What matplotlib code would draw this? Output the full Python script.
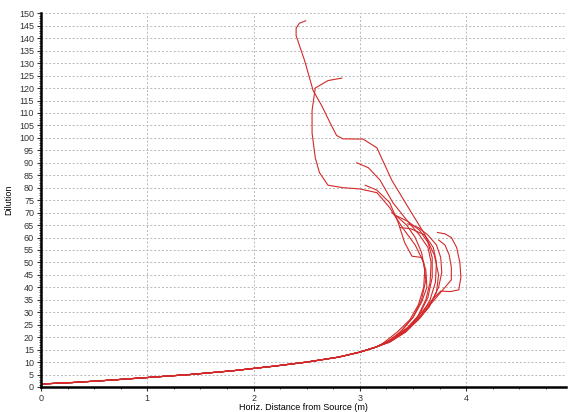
import matplotlib
matplotlib.use("Agg")
import matplotlib.pyplot as plt
from matplotlib.ticker import MultipleLocator

plt.rcParams['font.family'] = ['Liberation Sans', 'DejaVu Sans']

# shared lower trunk of all plume trajectories (distance m, dilution)
trunk_x = [0.0, 0.3, 0.6, 1.0, 1.4, 1.8, 2.2, 2.5, 2.8, 3.0, 3.15]
trunk_y = [1.2, 1.8, 2.6, 3.8, 5.0, 6.5, 8.4, 10.0, 12.0, 14.0, 16.0]

# upper parts of each trajectory
c1_x = [3.3, 3.42, 3.55, 3.65, 3.72, 3.74, 3.70, 3.60, 3.47, 3.30, 3.16, 3.03, 2.84, 2.78, 2.72, 2.64, 2.56, 2.48, 2.40, 2.40, 2.43, 2.49]
c1_y = [19, 22, 27, 32, 38, 45, 53, 62, 71, 83, 96, 99.5, 99.6, 101, 106, 113, 119, 131, 141, 144, 146, 147]
c2_x = [3.3, 3.4, 3.5, 3.58, 3.62, 3.60, 3.52, 3.40, 3.28, 3.16, 3.00, 2.84, 2.70, 2.62, 2.58, 2.55, 2.55, 2.58, 2.70, 2.83]
c2_y = [19, 23, 28, 35, 43, 50, 57, 64, 72, 78, 79.5, 80, 81, 86, 92, 102, 111, 120, 123, 124]
c3_x = [3.28, 3.42, 3.54, 3.62, 3.66, 3.67, 3.64, 3.56, 3.44, 3.31, 3.19, 3.08, 2.97]
c3_y = [18, 22, 28, 35, 42, 50, 56, 61, 67, 74, 83, 88, 90]
c4_x = [3.25, 3.38, 3.50, 3.58, 3.63, 3.62, 3.58, 3.49, 3.42, 3.36, 3.28, 3.16, 3.05]
c4_y = [18, 22, 28, 34, 40, 47, 52, 52.5, 58, 66, 74, 79, 81]
c5_x = [3.3, 3.44, 3.56, 3.64, 3.68, 3.68, 3.64, 3.56, 3.45, 3.33]
c5_y = [19, 23, 29, 36, 44, 52, 58, 63, 66.5, 69]
c6_x = [3.3, 3.45, 3.58, 3.66, 3.71, 3.72, 3.69, 3.61, 3.48, 3.38]
c6_y = [19, 23, 29, 35, 42, 50, 56, 61, 63.5, 64]
c7_x = [3.3, 3.45, 3.58, 3.68, 3.76, 3.85, 3.93, 3.95, 3.94, 3.91, 3.86, 3.80, 3.73]
c7_y = [19, 24, 30, 35, 38.5, 38.3, 39, 44, 50, 56, 60, 61.5, 62]
c8_x = [3.3, 3.46, 3.6, 3.72, 3.80, 3.86, 3.86, 3.84, 3.80, 3.74]
c8_y = [19, 24, 30, 36, 40, 43, 48, 53, 57, 59]
c9_x = [3.2, 3.35, 3.47, 3.55, 3.60, 3.61, 3.58, 3.52, 3.44, 3.36, 3.30]
c9_y = [17, 22, 27, 33, 40, 47, 54, 60, 65, 68, 70]
c10_x = [3.28, 3.43, 3.57, 3.67, 3.74, 3.77, 3.76, 3.72, 3.64, 3.55, 3.45]
c10_y = [18, 22, 28, 34, 40, 46, 52, 57, 61, 64, 65.5]

uppers = [(c1_x, c1_y), (c2_x, c2_y), (c3_x, c3_y), (c4_x, c4_y), (c5_x, c5_y),
          (c6_x, c6_y), (c7_x, c7_y), (c8_x, c8_y), (c9_x, c9_y), (c10_x, c10_y)]

fig = plt.figure(figsize=(5.69, 4.12), dpi=100)
ax = fig.add_axes([0.072, 0.0607, 0.923, 0.907])

for ux, uy in uppers:
    ax.plot(trunk_x + ux, trunk_y + uy, color='#d22a2a', lw=0.8)

ax.set_xlim(0, 4.94)
ax.set_ylim(0, 150)
ax.xaxis.set_major_locator(MultipleLocator(1))
ax.xaxis.set_minor_locator(MultipleLocator(0.25))
ax.yaxis.set_major_locator(MultipleLocator(5))
ax.yaxis.set_minor_locator(MultipleLocator(1))
ax.grid(True, which='major', color='#b8b8b8', ls=(0, (2, 2)), lw=0.7)

ax.spines['top'].set_visible(False)
ax.spines['right'].set_visible(False)
ax.spines['left'].set_linewidth(1.8)
ax.spines['bottom'].set_linewidth(1.8)
ax.tick_params(which='major', length=3, width=0.8, labelsize=6.5, colors='#333333', pad=2)
ax.tick_params(which='minor', length=1.5, width=0.6, colors='#333333')

ax.set_xlabel('Horiz. Distance from Source (m)', fontsize=6.5, labelpad=0)
ax.set_ylabel('Dilution', fontsize=6.5, labelpad=4)

plt.savefig("out.png", dpi=100)
